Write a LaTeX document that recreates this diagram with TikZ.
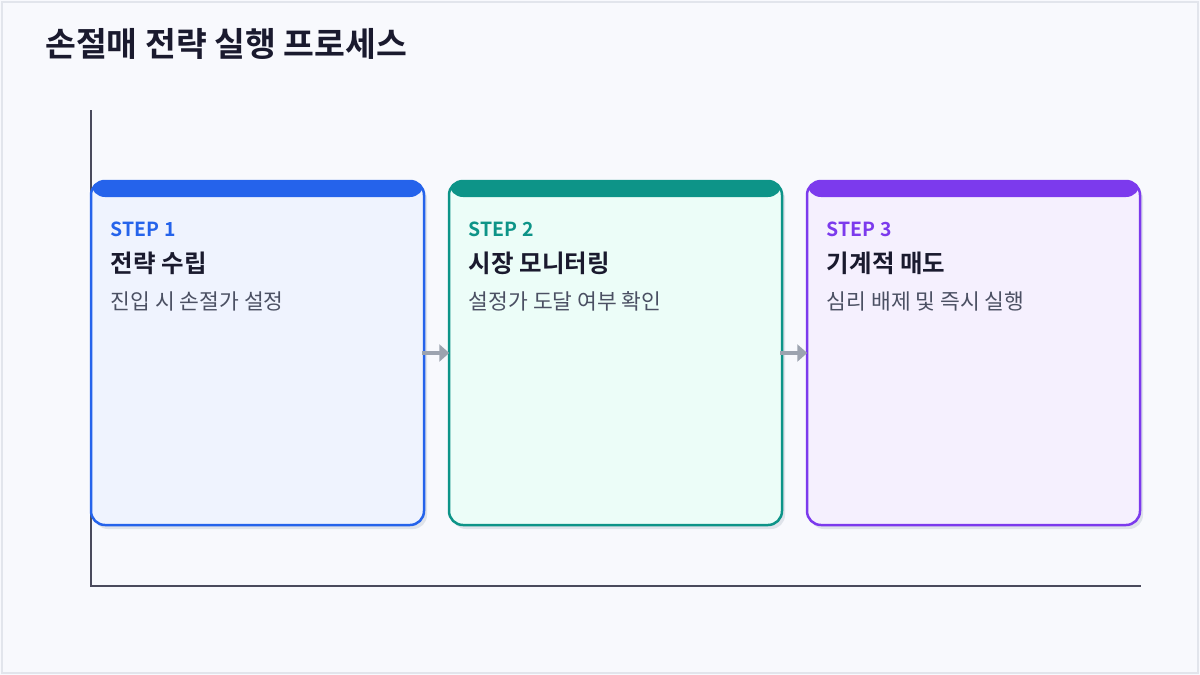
\documentclass[tikz,border=0pt]{standalone}
\usepackage{fontspec}
\setmainfont{Noto Sans CJK KR}[BoldFont={Noto Sans CJK KR Bold}]
\usepackage{tikz}
\usetikzlibrary{calc,arrows.meta,positioning,shadows}
\definecolor{paperbg}{HTML}{F8F9FD}
\definecolor{framegray}{HTML}{E2E5EC}
\definecolor{titleink}{HTML}{1A1A2E}
\definecolor{descink}{HTML}{4B5063}
\definecolor{axisink}{HTML}{4A4A5C}
\definecolor{arrowgray}{HTML}{9CA3AF}
\definecolor{shadowgray}{HTML}{DFE3EA}
\definecolor{stepblue}{HTML}{2563EB}
\definecolor{stepbluebg}{HTML}{EFF3FE}
\definecolor{stepteal}{HTML}{0D9488}
\definecolor{steptealbg}{HTML}{ECFDF8}
\definecolor{steppurple}{HTML}{7C3AED}
\definecolor{steppurplebg}{HTML}{F5F0FE}

\tikzset{
  stepbox/.style 2 args={draw=#1, fill=#2, line width=2.5pt, rounded corners=14pt,
    minimum width=333pt, minimum height=344pt,
    drop shadow={shadow xshift=3pt, shadow yshift=-4pt, fill=shadowgray, opacity=1},
    path picture={\fill[#1] (path picture bounding box.north west) rectangle
      ([yshift=-16pt]path picture bounding box.north east);}},
  steptag/.style={font=\bfseries\fontsize{19.4}{22}\selectfont, text=#1, anchor=west, inner sep=0pt},
  stephead/.style={font=\bfseries\fontsize{24.5}{28}\selectfont, text=titleink, anchor=west, inner sep=0pt},
  stepdesc/.style={font=\fontsize{21.5}{25}\selectfont, text=descink, anchor=west, inner sep=0pt},
  flowarrow/.style={draw=arrowgray, line width=4pt, shorten <=-3pt, shorten >=-1.5pt,
    -{Triangle[length=10pt, width=17pt]}},
}

\begin{document}
\begin{tikzpicture}[x=1pt, y=-1pt]
  \useasboundingbox (0,0) rectangle (1200,675);
  \fill[paperbg] (0,0) rectangle (1200,675);
  \draw[framegray, line width=2pt] (2,2) rectangle (1198,673);
  \node[font=\bfseries\fontsize{33.5}{40}\selectfont, text=titleink, anchor=west, inner sep=0pt]
    (title) at (45,44) {손절매 전략 실행 프로세스};
  % axes
  \coordinate (ytop) at (91,110);
  \coordinate (origin) at (91,586);
  \coordinate (xend) at (1141,586);
  \draw[axisink, line width=2pt] (ytop) -- (origin) -- (xend);
  % step boxes
  \node[stepbox={stepblue}{stepbluebg}] (s1) at (257.5,353) {};
  \node[stepbox={stepteal}{steptealbg}] (s2) at (615.5,353) {};
  \node[stepbox={steppurple}{steppurplebg}] (s3) at (973.5,353) {};
  \node[steptag=stepblue] (s1tag) at ($(s1.north west)+(21,50)$) {STEP 1};
  \node[stephead] (s1head) at ($(s1.north west)+(21,84)$) {전략 수립};
  \node[stepdesc] (s1desc) at ($(s1.north west)+(21,122)$) {진입 시 손절가 설정};
  \node[steptag=stepteal] (s2tag) at ($(s2.north west)+(21,50)$) {STEP 2};
  \node[stephead] (s2head) at ($(s2.north west)+(21,84)$) {시장 모니터링};
  \node[stepdesc] (s2desc) at ($(s2.north west)+(21,122)$) {설정가 도달 여부 확인};
  \node[steptag=steppurple] (s3tag) at ($(s3.north west)+(21,50)$) {STEP 3};
  \node[stephead] (s3head) at ($(s3.north west)+(21,84)$) {기계적 매도};
  \node[stepdesc] (s3desc) at ($(s3.north west)+(21,122)$) {심리 배제 및 즉시 실행};
  % flow arrows
  \draw[flowarrow] (s1.east) -- (s2.west);
  \draw[flowarrow] (s2.east) -- (s3.west);
\end{tikzpicture}
\end{document}
